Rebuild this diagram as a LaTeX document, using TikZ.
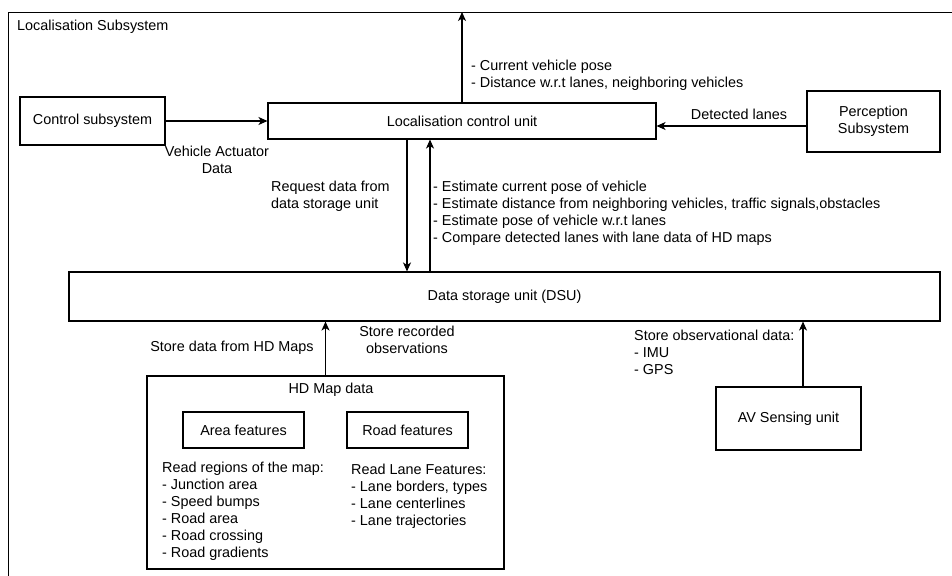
\documentclass[tikz,border=0pt]{standalone}
\usepackage{fontspec}
\setmainfont{Liberation Sans}
\usetikzlibrary{arrows.meta}
\begin{document}
\begin{tikzpicture}[x=1pt,y=-1pt,
  lbl/.style={inner sep=0pt, font=\fontsize{14.4}{17}\selectfont},
  box/.style={draw, line width=1.1pt, rectangle, inner sep=0pt,
    font=\fontsize{14.4}{17}\selectfont, align=center},
  flow/.style={line width=1.1pt, -{Stealth[length=9pt,width=8pt,inset=2.5pt]}}]
\useasboundingbox (0,0) rectangle (952,575);
\clip (0,0) rectangle (952,575);

% enclosing subsystem frame
\node[draw, line width=1.1pt, anchor=north west, inner sep=0pt,
  minimum width=1000pt, minimum height=620pt] (sys) at (8,12) {};
\node[lbl, anchor=base west] (systitle) at (17,30.2) {Localisation Subsystem};

% main blocks
\node[box, minimum width=145pt, minimum height=48pt] (ctrl) at (92.5,121) {Control subsystem};
\node[box, minimum width=388pt, minimum height=36pt] (lcu) at (462,121) {Localisation control unit};
\node[box, minimum width=133pt, minimum height=61pt] (per) at (873.5,121.5) {Perception\\Subsystem};
\node[box, minimum width=871pt, minimum height=49pt] (dsu) at (504.5,296.5) {Data storage unit (DSU)};
\node[box, minimum width=357pt, minimum height=193pt] (hd) at (325.5,472.5) {};
\node[box, minimum width=121pt, minimum height=36pt] (area) at (243.5,430) {Area features};
\node[box, minimum width=121pt, minimum height=36pt] (road) at (407.5,430) {Road features};
\node[box, minimum width=145pt, minimum height=63pt] (av) at (788.5,418.5) {AV Sensing unit};

% connectors
\draw[flow] (lcu.north) -- (lcu.north |- sys.north);
\draw[flow] (ctrl.east) -- (ctrl.east -| lcu.west);
\draw[flow] ([yshift=-4.5pt]per.west) -- ([yshift=-4.5pt]per.west -| lcu.east);
\draw[flow] ([xshift=-55pt]lcu.south) -- ([xshift=-55pt]lcu.south |- dsu.north);
\draw[flow] ([xshift=-32pt]lcu.south |- dsu.north) -- ([xshift=-32pt]lcu.south);
\draw[flow] (hd.north) -- (hd.north |- dsu.south);
\draw[flow] ([xshift=14.5pt]av.north) -- ([xshift=14.5pt]av.north |- dsu.south);

% labels
\node[lbl, anchor=north west, align=left] (outl) at (471,59.5)
  {- Current vehicle pose\\- Distance w.r.t lanes, neighboring vehicles};
\node[lbl, anchor=base] (detl) at (739,119.2) {Detected lanes};
\node[lbl, anchor=north, align=center] (actl) at (217,145.5) {Vehicle Actuator\\Data};
\node[lbl, anchor=north west, align=left] (reql) at (271,180.5) {Request data from\\data storage unit};
\node[lbl, anchor=north west, align=left] (estl) at (433,180.5)
  {- Estimate current pose of vehicle\\
   - Estimate distance from neighboring vehicles, traffic signals,obstacles\\
   - Estimate pose of vehicle w.r.t lanes\\
   - Compare detected lanes with lane data of HD maps};
\node[lbl, anchor=base] (hdl) at (232,351.2) {Store data from HD Maps};
\node[lbl, anchor=north, align=center] (recl) at (407,325.5) {Store recorded\\observations};
\node[lbl, anchor=north west, align=left] (obsl) at (634,329.5) {Store observational data:\\- IMU\\- GPS};
\node[lbl, anchor=base] (hdtitle) at (331,393.2) {HD Map data};
\node[lbl, anchor=north west, align=left] (areal) at (162,461.5)
  {Read regions of the map:\\- Junction area\\- Speed bumps\\- Road area\\- Road crossing\\- Road gradients};
\node[lbl, anchor=north west, align=left] (roadl) at (351,463.5)
  {Read Lane Features:\\- Lane borders, types\\- Lane centerlines\\- Lane trajectories};
\end{tikzpicture}
\end{document}
